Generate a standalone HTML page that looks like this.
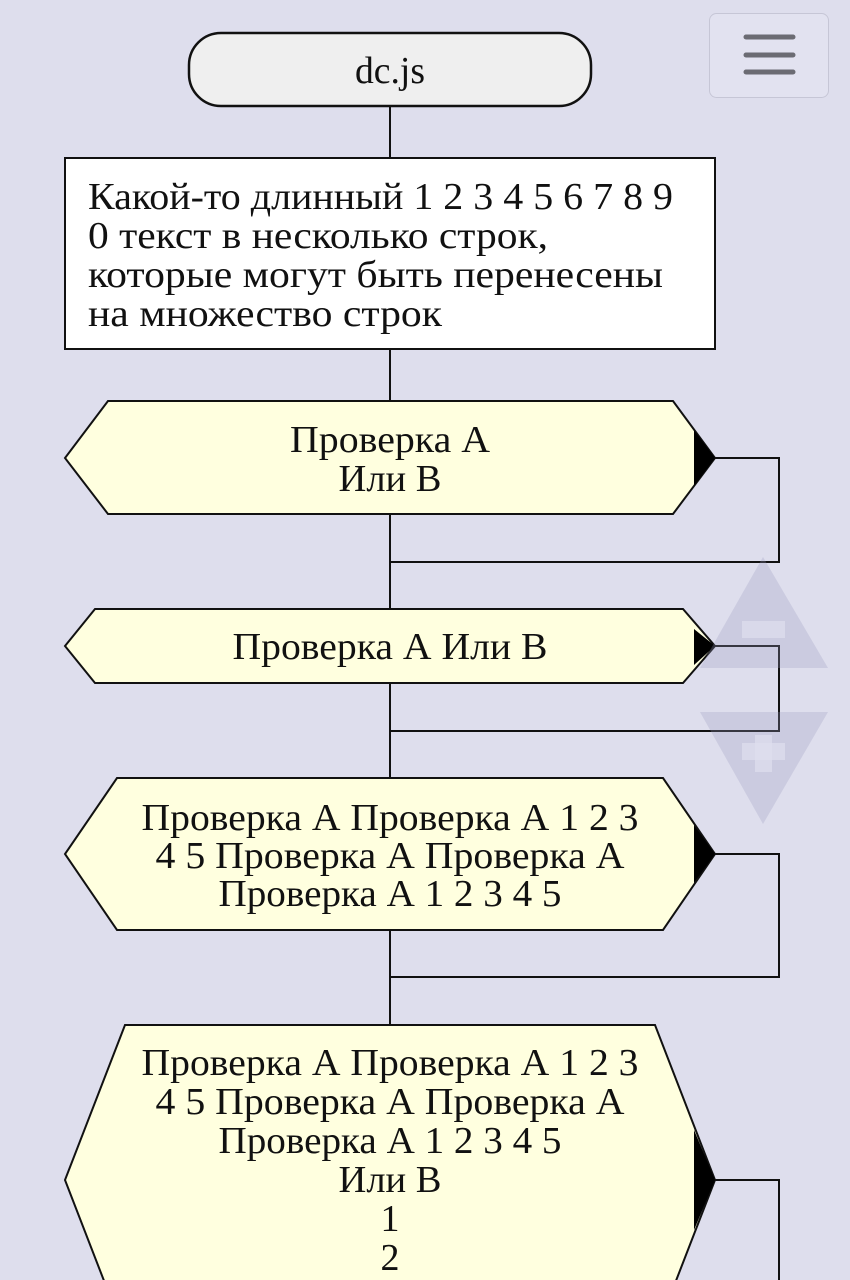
<!DOCTYPE html>
<html><head><meta charset="utf-8"><style>
html,body{margin:0;padding:0;background:#dedeed;}
svg{display:block}
text{font-family:"Liberation Serif","DejaVu Serif",serif;font-size:38px;fill:#111;}
</style></head><body>
<svg width="850" height="1280" viewBox="0 0 850 1280" xmlns="http://www.w3.org/2000/svg">
<rect width="850" height="1280" fill="#dedeed"/>
<g stroke="#111" stroke-width="2" fill="none">
<line x1="390" y1="106" x2="390" y2="158"/>
<line x1="390" y1="349" x2="390" y2="401"/>
<line x1="390" y1="514" x2="390" y2="609"/>
<line x1="390" y1="683" x2="390" y2="778"/>
<line x1="390" y1="930" x2="390" y2="1025"/>
<polyline points="715,458 779,458 779,562 390,562"/>
<polyline points="715,646 779,646 779,731 390,731"/>
<polyline points="715,854 779,854 779,977 390,977"/>
<polyline points="715,1180 779,1180 779,1290"/>
</g>
<rect x="189" y="33" width="402" height="73" rx="32" fill="#efefef" stroke="#111" stroke-width="2.5"/>
<text x="390" y="83" text-anchor="middle" textLength="70" lengthAdjust="spacingAndGlyphs">dc.js</text>
<rect x="65" y="158" width="650" height="191" fill="#fff" stroke="#111" stroke-width="2"/>
<text x="88" y="209" textLength="585" lengthAdjust="spacingAndGlyphs">Какой-то длинный 1 2 3 4 5 6 7 8 9</text>
<text x="88" y="248" textLength="460" lengthAdjust="spacingAndGlyphs">0 текст в несколько строк,</text>
<text x="88" y="287" textLength="575" lengthAdjust="spacingAndGlyphs">которые могут быть перенесены</text>
<text x="88" y="326" textLength="354" lengthAdjust="spacingAndGlyphs">на множество строк</text>
<polygon points="108,401 673,401 715,458 673,514 108,514 65,458" fill="#ffffdf" stroke="#111" stroke-width="2"/>
<polygon points="694,430 715,458 694,486" fill="#000"/>
<text x="390" y="452" text-anchor="middle" textLength="200" lengthAdjust="spacingAndGlyphs">Проверка А</text>
<text x="390" y="491" text-anchor="middle" textLength="103" lengthAdjust="spacingAndGlyphs">Или В</text>
<polygon points="95,609 683,609 715,646 683,683 95,683 65,646" fill="#ffffdf" stroke="#111" stroke-width="2"/>
<polygon points="694,629 715,646 694,665" fill="#000"/>
<text x="390" y="659" text-anchor="middle" textLength="315" lengthAdjust="spacingAndGlyphs">Проверка А Или В</text>
<polygon points="117,778 663,778 715,854 663,930 117,930 65,854" fill="#ffffdf" stroke="#111" stroke-width="2"/>
<polygon points="694,825 715,854 694,883" fill="#000"/>
<text x="390" y="830" text-anchor="middle" textLength="497" lengthAdjust="spacingAndGlyphs">Проверка А Проверка А 1 2 3</text>
<text x="390" y="868" text-anchor="middle" textLength="469" lengthAdjust="spacingAndGlyphs">4 5 Проверка А Проверка А</text>
<text x="390" y="906" text-anchor="middle" textLength="343" lengthAdjust="spacingAndGlyphs">Проверка А 1 2 3 4 5</text>
<polygon points="125,1025 655,1025 715,1180 655,1335 125,1335 65,1180" fill="#ffffdf" stroke="#111" stroke-width="2"/>
<polygon points="694,1130 715,1180 694,1230" fill="#000"/>
<text x="390" y="1075" text-anchor="middle" textLength="497" lengthAdjust="spacingAndGlyphs">Проверка А Проверка А 1 2 3</text>
<text x="390" y="1114" text-anchor="middle" textLength="469" lengthAdjust="spacingAndGlyphs">4 5 Проверка А Проверка А</text>
<text x="390" y="1153" text-anchor="middle" textLength="343" lengthAdjust="spacingAndGlyphs">Проверка А 1 2 3 4 5</text>
<text x="390" y="1192" text-anchor="middle" textLength="103" lengthAdjust="spacingAndGlyphs">Или В</text>
<text x="390" y="1231" text-anchor="middle">1</text>
<text x="390" y="1270" text-anchor="middle">2</text>
<g fill="#9a9ac0" fill-opacity="0.28">
<polygon points="763,557 828,668 700,668"/>
<polygon points="700,712 828,712 763,824"/>
</g>
<g fill="#dedeed" fill-opacity="0.75">
<rect x="742" y="621" width="43" height="17"/>
<rect x="742" y="743" width="43" height="17"/>
<rect x="755" y="735" width="17" height="37"/>
</g>
<rect x="709.5" y="13.5" width="119" height="84" rx="7" fill="#e2e2f0" stroke="#c6c6d6" stroke-width="1"/>
<g stroke="#6b6b73" stroke-width="5" stroke-linecap="round">
<line x1="746" y1="37" x2="793" y2="37"/>
<line x1="746" y1="55" x2="793" y2="55"/>
<line x1="746" y1="72" x2="793" y2="72"/>
</g>
</svg>
</body></html>
